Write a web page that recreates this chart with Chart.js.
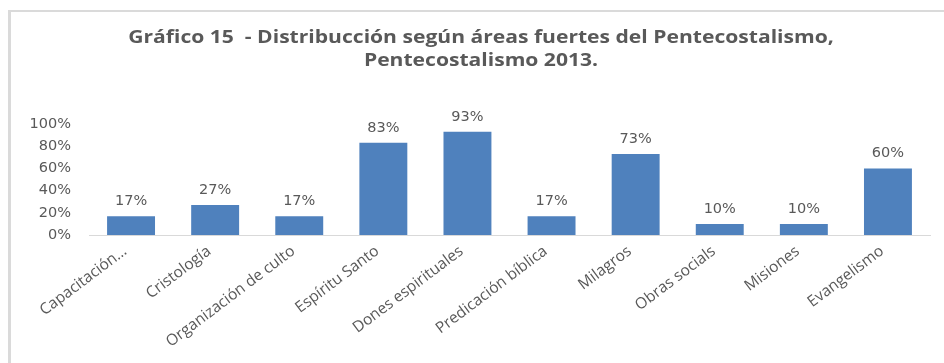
<!DOCTYPE html>
<html>
<head>
<meta charset="utf-8">
<script src="https://cdn.jsdelivr.net/npm/chart.js@4"></script>
<style>
  body { margin: 0; background: #fff; }
  #wrap { position: relative; width: 944px; height: 363px; overflow: hidden; }
  #frame { position: absolute; left: 8px; top: 10px; right: -10px; bottom: -10px;
           border-left: 3px solid #dadada; border-top: 2px solid #dadada; }
  #chart { position: absolute; left: 0; top: 0; }
</style>
</head>
<body>
<div id="wrap">
  <div id="frame"></div>
  <canvas id="chart" width="944" height="363"></canvas>
</div>
<script>
// ── Data ──
const areas = ['Capacitación…', 'Cristología', 'Organización de culto', 'Espíritu Santo',
  'Dones espirituales', 'Predicación bíblica', 'Milagros', 'Obras socials', 'Misiones', 'Evangelismo'];
const shares = [17, 27, 17, 83, 93, 17, 73, 10, 10, 60];
const yTicks = [0, 20, 40, 60, 80, 100];
const titleLines = ['Gráfico 15  - Distribucción según áreas fuertes del Pentecostalismo,', 'Pentecostalismo 2013.'];

const GREY = '#595959';
const NUM_FONT = { family: 'DejaVu Sans', size: 14.5 };

// wide two-line heading, drawn with a horizontal stretch
const wideTitle = {
  id: 'wideTitle',
  afterDraw(chart) {
    const ctx = chart.ctx;
    ctx.save();
    ctx.fillStyle = GREY;
    ctx.font = 'bold 17px "Open Sans"';
    ctx.textAlign = 'center';
    ctx.textBaseline = 'middle';
    ctx.translate(481, 0);
    ctx.scale(1.24, 1);
    ctx.fillText(titleLines[0], 0, 38);
    ctx.fillText(titleLines[1], 0, 61);
    ctx.restore();
  }
};

// value labels above each bar
const barLabels = {
  id: 'barLabels',
  afterDatasetsDraw(chart) {
    const ctx = chart.ctx;
    const meta = chart.getDatasetMeta(0);
    ctx.save();
    ctx.fillStyle = GREY;
    ctx.font = `${NUM_FONT.size}px "${NUM_FONT.family}"`;
    ctx.textAlign = 'center';
    ctx.textBaseline = 'alphabetic';
    meta.data.forEach((bar, i) => {
      ctx.fillText(shares[i] + '%', bar.x, bar.y - 11);
    });
    ctx.restore();
  }
};

new Chart(document.getElementById('chart'), {
  type: 'bar',
  data: {
    labels: areas,
    datasets: [{
      data: shares,
      backgroundColor: '#4f81bd',
      borderWidth: 0,
      categoryPercentage: 1,
      barPercentage: 0.57
    }]
  },
  options: {
    responsive: false,
    animation: false,
    layout: { padding: { left: 10, right: 14, top: 124, bottom: 0 } },
    plugins: {
      legend: { display: false },
      tooltip: { enabled: false },
      title: { display: false }
    },
    scales: {
      y: {
        min: 0, max: 100,
        afterBuildTicks(scale) { scale.ticks = yTicks.map(v => ({ value: v })); },
        afterFit(scale) { scale.width = 79; },
        grid: { display: false, drawTicks: false },
        border: { display: false },
        ticks: { color: GREY, font: NUM_FONT, padding: 18, callback: v => v + '%' }
      },
      x: {
        afterFit(scale) { scale.height = 128; },
        grid: { display: false, drawTicks: false },
        border: { display: true, color: '#d9d9d9', width: 1 },
        ticks: { color: GREY, font: { family: 'Open Sans', size: 15.5 }, minRotation: 37, maxRotation: 37, autoSkip: false, padding: 7, labelOffset: -6 }
      }
    }
  },
  plugins: [barLabels, wideTitle]
});
</script>
</body>
</html>
